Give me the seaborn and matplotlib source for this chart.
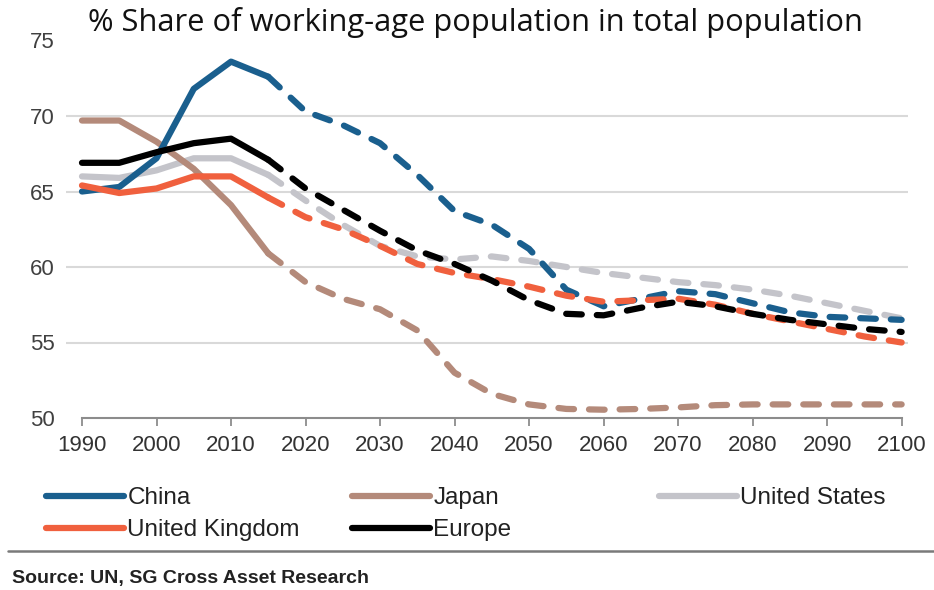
import matplotlib
matplotlib.use("Agg")
import matplotlib.pyplot as plt
import seaborn as sns
import pandas as pd
from matplotlib.lines import Line2D

# ---- data ----
years = [1990, 1995, 2000, 2005, 2010, 2015, 2020, 2025, 2030, 2035, 2040, 2045,
         2050, 2055, 2060, 2065, 2070, 2075, 2080, 2085, 2090, 2095, 2100]
china = [65.0, 65.3, 67.2, 71.8, 73.6, 72.6, 70.3, 69.4, 68.2, 66.1, 63.7, 62.8,
         61.2, 58.5, 57.4, 57.9, 58.4, 58.2, 57.6, 57.0, 56.7, 56.6, 56.5]
japan = [69.7, 69.7, 68.3, 66.5, 64.1, 60.9, 59.0, 57.9, 57.2, 55.8, 53.0, 51.6,
         50.9, 50.6, 50.55, 50.6, 50.7, 50.85, 50.9, 50.9, 50.9, 50.9, 50.9]
united_states = [66.0, 65.9, 66.4, 67.2, 67.2, 66.1, 64.4, 62.8, 61.4, 60.7, 60.5, 60.7,
                 60.4, 60.0, 59.6, 59.3, 59.0, 58.8, 58.5, 58.1, 57.6, 57.1, 56.6]
united_kingdom = [65.4, 64.9, 65.2, 66.0, 66.0, 64.6, 63.3, 62.5, 61.4, 60.2, 59.6, 59.2,
                  58.7, 58.1, 57.7, 57.8, 57.9, 57.5, 56.9, 56.4, 55.9, 55.4, 55.0]
europe = [66.9, 66.9, 67.6, 68.2, 68.5, 67.1, 65.2, 63.8, 62.4, 61.1, 60.2, 59.1,
          57.8, 56.9, 56.8, 57.3, 57.7, 57.4, 56.9, 56.5, 56.2, 55.9, 55.7]
last_actual_year = 2015

series_names = ["United States", "Japan", "China", "United Kingdom", "Europe"]
series_values = [united_states, japan, china, united_kingdom, europe]
colors = {"China": "#1a5f8e", "Japan": "#b48a7a", "United States": "#c4c4ca",
          "United Kingdom": "#f0603e", "Europe": "#000000"}

x_ticks = [1990, 2000, 2010, 2020, 2030, 2040, 2050, 2060, 2070, 2080, 2090, 2100]
y_ticks = [50, 55, 60, 65, 70, 75]
title = "% Share of working-age population in total population"
source = "Source: UN, SG Cross Asset Research"

# ---- figure ----
sns.set_theme(style="white")
plt.rcParams["font.family"] = ["Liberation Sans", "DejaVu Sans"]

W, H = 934, 590
fig = plt.figure(figsize=(W / 100, H / 100), dpi=100)
ax = fig.add_axes([65.6 / W, (H - 418) / H, 842 / W, 377.5 / H])

LW = 4.5
for name, vals in zip(series_names, series_values):
    df = pd.DataFrame({"year": years, "value": vals})
    solid = df[df["year"] <= last_actual_year]
    proj = df[df["year"] >= last_actual_year]
    sns.lineplot(data=solid, x="year", y="value", ax=ax, color=colors[name],
                 linewidth=LW, solid_capstyle="round", solid_joinstyle="round")
    sns.lineplot(data=proj, x="year", y="value", ax=ax, color=colors[name],
                 linewidth=LW)
    ln = ax.lines[-1]
    ln.set_dashes([2.5, 2.4])
    ln.set_dash_capstyle("round")
    ln.set_dash_joinstyle("round")

ax.set_xlim(1987.8, 2100.8)
ax.set_ylim(50, 75)
ax.set_xticks(x_ticks)
ax.set_yticks(y_ticks)
ax.set_xlabel("")
ax.set_ylabel("")

ax.grid(axis="y", color="#d9d9d9", linewidth=1.5)
ax.grid(axis="x", visible=False)
ax.get_ygridlines()[0].set_visible(False)
ax.get_ygridlines()[-1].set_visible(False)
ax.set_axisbelow(True)

for s in ["top", "right", "left"]:
    ax.spines[s].set_visible(False)
ax.spines["bottom"].set_color("#8c8c8c")
ax.spines["bottom"].set_linewidth(1.5)
ax.spines["bottom"].set_bounds(1990, 2100)

ax.tick_params(axis="x", direction="out", length=6, width=1.3, color="#8c8c8c",
               pad=6, labelsize=16, labelcolor="#333333")
ax.tick_params(axis="y", length=0, pad=8, labelsize=16, labelcolor="#404040")
ax.xaxis.set_ticks_position("bottom")

# title
fig.text(88 / W, 1 - 22 / H, title, ha="left", va="center", fontsize=22.2,
         family=["Open Sans", "DejaVu Sans"], color="#111111")

# legend (three fixed columns like the original)
def handle(name):
    return Line2D([0], [0], color=colors[name], linewidth=LW, solid_capstyle="round")

legend_cols = [["China", "United Kingdom"], ["Japan", "Europe"], ["United States"]]
legend_x = [46, 352, 659]
for names, xpx in zip(legend_cols, legend_x):
    leg = fig.legend([handle(n) for n in names], names, loc="upper left",
                     bbox_to_anchor=(xpx / W, 1 - 487 / H), frameon=False,
                     fontsize=17.5, handlelength=3.2, handletextpad=0.15,
                     borderpad=0, borderaxespad=0, labelspacing=0.42)
    for t in leg.get_texts():
        t.set_color("#222222")

# separator and source
fig.add_artist(Line2D([8 / W, 1.0], [1 - 551 / H, 1 - 551 / H], color="#7a7a7a",
                      linewidth=1.8, transform=fig.transFigure))
fig.text(12 / W, 1 - 578 / H, source, ha="left", va="center", fontsize=14,
         fontweight="bold", color="#222222")

fig.savefig("out.png", dpi=100)
